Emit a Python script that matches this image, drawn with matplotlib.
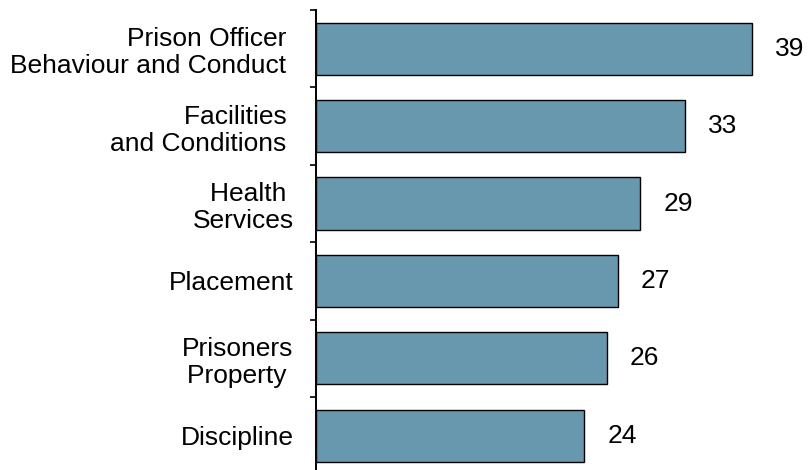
import numpy as np
import matplotlib
matplotlib.use('Agg')
import matplotlib.pyplot as plt

categories = ['Prison Officer \nBehaviour and Conduct ', 'Facilities \nand Conditions ',
              'Health \nServices', 'Placement', 'Prisoners\nProperty ', 'Discipline']
values = [39, 33, 29, 27, 26, 24]
bar_color = '#6898AD'

plt.rcParams['font.family'] = ['Liberation Sans', 'DejaVu Sans']

fig = plt.figure(figsize=(8.08, 4.70), dpi=100)
ax = fig.add_axes([0.391, -0.0094, 0.609, 0.988])

pos = np.arange(len(values))
ax.barh(pos, values, height=0.675, color=bar_color, edgecolor='black', linewidth=1.0)

for p, v in zip(pos, values):
    ax.annotate(str(v), xy=(v, p), xytext=(16.5, 0), textcoords='offset points',
                ha='left', va='center', fontsize=19)

ax.set_xlim(0, 44)
ax.set_ylim(len(values) - 0.5, -0.5)

# boundary ticks on the axis, category names as untick'd minor labels
ax.set_yticks(np.arange(len(values) + 1) - 0.5)
ax.set_yticklabels([])
ax.set_yticks(pos, minor=True)
ax.set_yticklabels(categories, minor=True, fontsize=19, linespacing=1.16, ha='right',
                   multialignment='right')
ax.tick_params(axis='y', which='major', direction='out', length=4.5, width=1.2)
ax.tick_params(axis='y', which='minor', length=0, pad=16)

ax.set_xticks([])
for s in ['top', 'right', 'bottom']:
    ax.spines[s].set_visible(False)
ax.spines['left'].set_linewidth(1.4)

fig.savefig('out.png', dpi=100)
